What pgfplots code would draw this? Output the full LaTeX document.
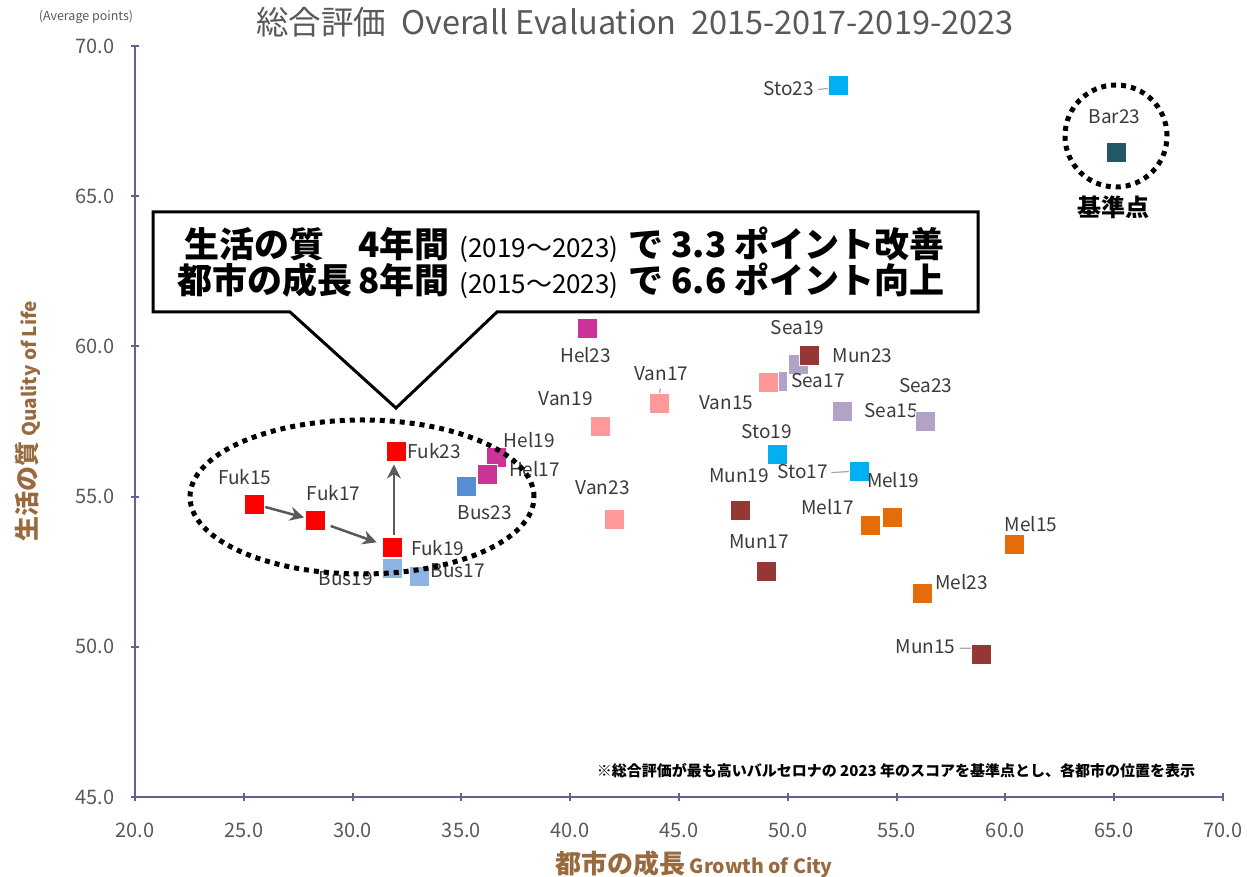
\documentclass[border=0pt]{standalone}
\usepackage{fontspec}
\setmainfont{Noto Sans CJK JP}
\usepackage{pgfplots}
\usepackage{pgfplotstable}
\pgfplotsset{compat=1.18}
\usetikzlibrary{arrows.meta}

\definecolor{axpurple}{HTML}{6E5C8E}
\definecolor{tickgray}{HTML}{595959}
\definecolor{labgray}{HTML}{3A3A3A}
\definecolor{titlegray}{HTML}{595959}
\definecolor{brownlab}{HTML}{9A6A3F}
\definecolor{arrowgray}{HTML}{595959}
\definecolor{leadgray}{HTML}{A6A6A6}
\definecolor{cfuk}{HTML}{FF0000}
\definecolor{cbusl}{HTML}{8EB4E3}
\definecolor{cbusd}{HTML}{558ED5}
\definecolor{chel}{HTML}{CC3399}
\definecolor{cvan}{HTML}{FF9999}
\definecolor{csea}{HTML}{B3A2C7}
\definecolor{cmun}{HTML}{953735}
\definecolor{csto}{HTML}{00B0F0}
\definecolor{cmel}{HTML}{E46C0A}
\definecolor{cbar}{HTML}{215968}

\pgfplotstableread{
x y dx dy lab
25.5 54.75 -10 27 Fuk15
28.3 54.2 18 28 Fuk17
31.8 53.3 46 0 Fuk19
32.0 56.5 38 0 Fuk23
}\tfuk
\pgfplotstableread{
x y dx dy lab
31.8 52.6 -46 -10 Bus19
33.05 52.35 39 6 Bus17
}\tbusl
\pgfplotstableread{
x y dx dy lab
35.2 55.35 19 -27 Bus23
}\tbusd
\pgfplotstableread{
x y dx dy lab
36.6 56.3 33 17 Hel19
36.2 55.75 47 5 Hel17
40.8 60.6 -2 -27 Hel23
}\thel
\pgfplotstableread{
x y dx dy lab
41.4 57.35 -35 27 Van19
44.1 58.1 2 30 Van17
42.0 54.25 -11 31 Van23
49.1 58.8 -42 -20 Van15
}\tvan
\pgfplotstableread{
x y dx dy lab
50.5 59.4 -1 37 Sea19
49.5 58.85 41 0 Sea17
52.5 57.85 49 0 Sea15
56.3 57.5 1 36 Sea23
}\tsea
\pgfplotstableread{
x y dx dy lab
51.0 59.7 53 0 Mun23
47.8 54.55 -1 34 Mun19
49.0 52.5 -7 30 Mun17
58.9 49.75 -56 8 Mun15
}\tmun
\pgfplotstableread{
x y dx dy lab
52.3 68.7 -49 -3 Sto23
49.5 56.4 -10 23 Sto19
53.3 55.85 -57 0 Sto17
}\tsto
\pgfplotstableread{
x y dx dy lab
54.8 54.3 1 38 Mel19
53.8 54.05 -43 18 Mel17
60.4 53.4 17 21 Mel15
56.2 51.8 39 11 Mel23
}\tmel
\pgfplotstableread{
x y dx dy lab
65.1 66.45 -2 36 Bar23
}\tbar

\begin{document}
\begin{tikzpicture}[x=1pt,y=1pt]
\useasboundingbox (0,0) rectangle (1247,877);
\begin{axis}[
  at={(135pt,80pt)}, anchor=south west,
  scale only axis, width=1088pt, height=751pt,
  xmin=20, xmax=70, ymin=45, ymax=70,
  axis lines=left,
  axis line style={-, line width=2.5pt, draw=axpurple},
  xtick={20,25,...,70}, ytick={45,50,...,70},
  tick style={line width=2pt, draw=axpurple},
  major tick length=8pt, tick align=center,
  tick label style={font=\fontsize{20}{22}\selectfont, text=tickgray},
  xticklabel style={yshift=-18pt},
  yticklabel style={xshift=-13pt},
  /pgf/number format/fixed,
  /pgf/number format/fixed zerofill,
  /pgf/number format/precision=1,
  /pgf/number format/assume math mode=true,
  clip=false,
  point meta=explicit symbolic,
  nodes near coords,
  visualization depends on={\thisrow{dx} \as \dx},
  visualization depends on={\thisrow{dy} \as \dy},
  every node near coord/.append style={anchor=center, xshift=\dx pt, yshift=\dy pt,
     font=\fontsize{19}{21}\selectfont, text=labgray, inner sep=0pt},
  mark size=10pt,
]
% small leader lines
\draw[leadgray, line width=1.2pt] (axis cs:51.4,68.55) -- (axis cs:52.0,68.6);
\draw[leadgray, line width=1.2pt] (axis cs:44.15,58.6) -- (axis cs:44.0,58.1);
\draw[leadgray, line width=1.2pt] (axis cs:41.8,54.5) -- (axis cs:42.3,54.05);
\draw[leadgray, line width=1.2pt] (axis cs:48.7,52.8) -- (axis cs:49.0,52.4);
\draw[leadgray, line width=1.2pt] (axis cs:57.9,49.95) -- (axis cs:58.6,49.95) -- (axis cs:58.85,49.6);
\draw[leadgray, line width=1.2pt] (axis cs:52.0,55.8) -- (axis cs:53.2,55.85);
\draw[leadgray, line width=1.2pt] (axis cs:25.0,55.05) -- (axis cs:25.6,54.55);
\addplot[only marks, mark=square*, mark options={draw=white, line width=0.4pt, fill=csea}] table[x=x,y=y,meta=lab]{\tsea};
\addplot[only marks, mark=square*, mark options={draw=white, line width=0.4pt, fill=cvan}] table[x=x,y=y,meta=lab]{\tvan};
\addplot[only marks, mark=square*, mark options={draw=white, line width=0.4pt, fill=cmun}] table[x=x,y=y,meta=lab]{\tmun};
\addplot[only marks, mark=square*, mark options={draw=white, line width=0.4pt, fill=csto}] table[x=x,y=y,meta=lab]{\tsto};
\addplot[only marks, mark=square*, mark options={draw=white, line width=0.4pt, fill=cmel}] table[x=x,y=y,meta=lab]{\tmel};
\addplot[only marks, mark=square*, mark options={draw=white, line width=0.4pt, fill=chel}] table[x=x,y=y,meta=lab]{\thel};
\addplot[only marks, mark=square*, mark options={draw=white, line width=0.4pt, fill=cbusl}] table[x=x,y=y,meta=lab]{\tbusl};
\addplot[only marks, mark=square*, mark options={draw=white, line width=0.4pt, fill=cbusd}] table[x=x,y=y,meta=lab]{\tbusd};
\addplot[only marks, mark=square*, mark options={draw=white, line width=0.4pt, fill=cfuk}] table[x=x,y=y,meta=lab]{\tfuk};
\addplot[only marks, mark=square*, mark options={draw=white, line width=0.4pt, fill=cbar}] table[x=x,y=y,meta=lab]{\tbar};
% arrows
\draw[-{Stealth[length=14pt,width=14pt]}, line width=2.5pt, draw=arrowgray, fill=arrowgray, shorten <=11pt, shorten >=12pt]
  (axis cs:25.5,54.75) -- (axis cs:28.3,54.2);
\draw[-{Stealth[length=14pt,width=14pt]}, line width=2.5pt, draw=arrowgray, fill=arrowgray, shorten <=16pt, shorten >=16pt]
  (axis cs:28.3,54.2) -- (axis cs:31.8,53.3);
\draw[-{Stealth[length=14pt,width=14pt]}, line width=2.5pt, draw=arrowgray, fill=arrowgray, shorten <=13pt, shorten >=13pt]
  (axis cs:31.9,53.3) -- (axis cs:31.9,56.5);
\end{axis}
% title and axis labels
\node[text=titlegray, font=\fontsize{32.5}{36}\selectfont] at (635,855) {総合評価\ \ Overall Evaluation\ \ 2015-2017-2019-2023};
\node[text=tickgray, font=\fontsize{12.5}{14}\selectfont] at (86,860) {(Average points)};
\node[rotate=90, text=brownlab] at (28,456) {{\fontsize{25}{28}\selectfont\bfseries 生活の質}\ \ {\fontsize{19}{22}\selectfont\bfseries Quality of Life}};
\node[text=brownlab] at (694,13) {{\fontsize{26}{30}\selectfont\bfseries 都市の成長}\ \ {\fontsize{19.5}{22}\selectfont\bfseries Growth of City}};
% callout
\draw[line width=3pt, fill=white, line join=miter] (153,665) -- (978,665) -- (978,565) -- (497,565) -- (396,469) -- (290,565) -- (153,565) -- cycle;
\node[align=right, anchor=east, font=\fontsize{35}{36}\selectfont\bfseries] at (948,614)
  {生活の質\hspace{34pt}4年間\hspace{10pt}{\mdseries\fontsize{26}{30}\selectfont(2019～2023)}\hspace{10pt}で\hspace{8pt}3.3\hspace{8pt}ポイント改善\\
   都市の成長\hspace{6pt}8年間\hspace{10pt}{\mdseries\fontsize{26}{30}\selectfont(2015～2023)}\hspace{10pt}で\hspace{8pt}6.6\hspace{8pt}ポイント向上};
% dotted ellipse and circle
\draw[line width=5pt, dash pattern=on 5pt off 5pt] (362,380) ellipse [x radius=172, y radius=77];
\draw[line width=5pt, dash pattern=on 5pt off 5pt] (1116,741) circle [radius=51];
\node[font=\fontsize{24}{28}\selectfont\bfseries] at (1113,670) {基準点};
\node[font=\fontsize{15}{18}\selectfont\bfseries] at (896,106) {※総合評価が最も高いバルセロナの 2023 年のスコアを基準点とし、各都市の位置を表示};
\end{tikzpicture}
\end{document}
